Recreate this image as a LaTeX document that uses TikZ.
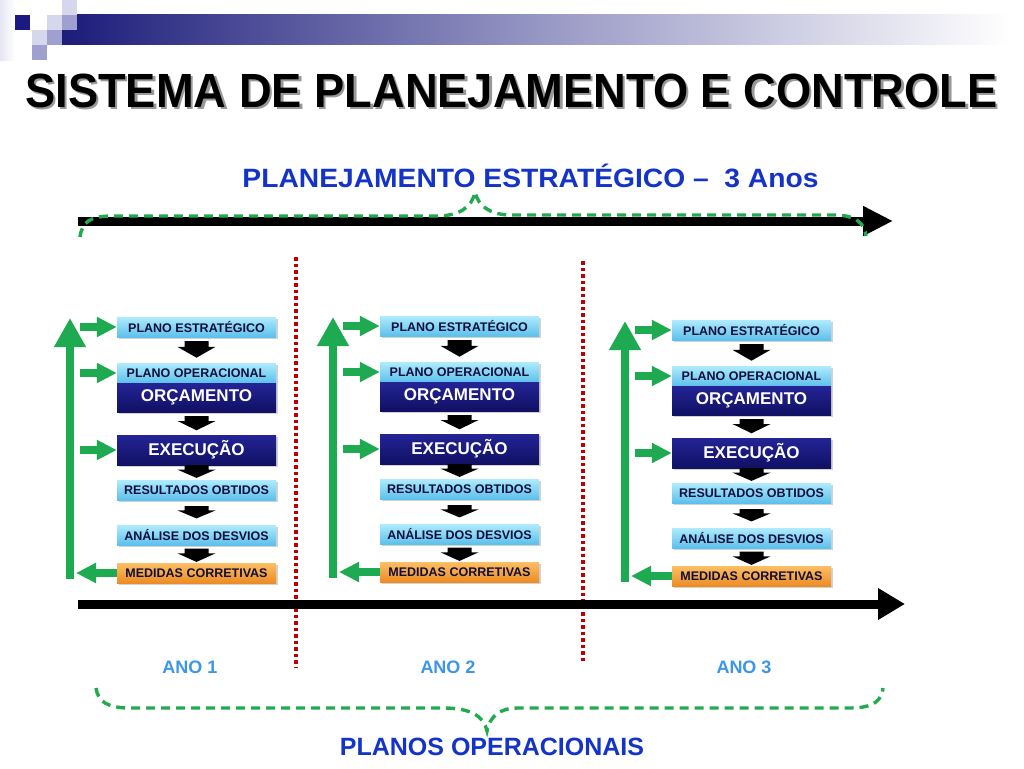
\documentclass[tikz,border=0pt]{standalone}
\usepackage{fontspec}
\setmainfont{Liberation Sans}
\usepackage{graphicx}
\usetikzlibrary{arrows.meta,shadows,calc}

\definecolor{navyTop}{RGB}{36,36,150}
\definecolor{navyBot}{RGB}{16,16,100}
\definecolor{cyanTop}{RGB}{175,235,253}
\definecolor{cyanBot}{RGB}{92,192,236}
\definecolor{orTop}{RGB}{253,190,100}
\definecolor{orBot}{RGB}{236,140,36}
\definecolor{grn}{RGB}{30,170,80}
\definecolor{braceGreen}{RGB}{34,170,80}
\definecolor{titleblue}{RGB}{20,52,200}
\definecolor{anoblue}{RGB}{60,150,232}
\definecolor{dotred}{RGB}{192,0,0}
\definecolor{boxtext}{RGB}{15,15,60}
\definecolor{barL}{RGB}{28,28,122}
\definecolor{sqNavy}{RGB}{26,26,128}
\definecolor{sqLight}{RGB}{214,214,236}
\definecolor{sqMed}{RGB}{160,160,208}

\tikzset{
  lbox/.style={minimum width=159pt, minimum height=20pt, inner sep=0pt,
    top color=cyanTop, bottom color=cyanBot, text=boxtext,
    font=\fontsize{12.5}{12.5}\selectfont\bfseries,
    drop shadow={shadow xshift=1.5pt,shadow yshift=-2pt,opacity=0.35}},
  nbox/.style={lbox, top color=navyTop, bottom color=navyBot, text=white,
    font=\fontsize{17}{17}\selectfont\bfseries},
  obox/.style={lbox, top color=orTop, bottom color=orBot},
  gside/.style={draw=grn, line width=8pt, -{Triangle[length=20pt,width=19pt]}},
  gvert/.style={draw=grn, line width=8pt, -{Triangle[length=29pt,width=30pt]}},
  bigarrow/.style={draw=black, line width=9pt},
  bracestyle/.style={draw=braceGreen, line width=3.4pt, dash pattern=on 9pt off 6pt},
  redline/.style={draw=dotred, line width=4pt, dash pattern=on 3.5pt off 3pt},
}

\newcommand\blkarrow[4]{%
  \coordinate (T) at ($(#1.south)!#3!(#2.north)$);
  \coordinate (B) at ($(#1.south)!#4!(#2.north)$);
  \coordinate (M) at ($(T)!0.35!(B)$);
  \fill[black] ($(T)+(-12,0)$) -- ($(T)+(12,0)$) -- ($(M)+(12,0)$) -- ($(M)+(19,0)$)
    -- (B) -- ($(M)+(-19,0)$) -- ($(M)+(-12,0)$) -- cycle;}

\newcommand\drawblock[3]{%
  \begin{scope}[shift={(#2,#3)}]
    \node[lbox] (#1pe) at (196.5,327) {PLANO ESTRATÉGICO};
    \node[lbox] (#1po) at (196.5,373) {PLANO OPERACIONAL};
    \node[nbox, minimum height=29pt] (#1orc) at (196.5,397.5) {ORÇAMENTO};
    \node[nbox, minimum height=30pt] (#1exe) at (196.5,450) {EXECUÇÃO};
    \node[lbox] (#1res) at (196.5,490) {RESULTADOS OBTIDOS};
    \node[lbox] (#1ana) at (196.5,535) {ANÁLISE DOS DESVIOS};
    \node[obox] (#1med) at (196.5,573) {MEDIDAS CORRETIVAS};
    \coordinate (#1sx) at (80,0);
    \coordinate (#1lx) at (76,0);
    \coordinate (#1vb) at (70,579);
    \coordinate (#1vt) at (70,318);
  \end{scope}
  \draw[gvert] (#1vb) -- (#1vt);
  \draw[gside] (#1pe.west -| #1sx) -- (#1pe.west);
  \draw[gside] (#1po.west -| #1sx) -- (#1po.west);
  \draw[gside] (#1exe.west -| #1sx) -- (#1exe.west);
  \draw[gside] (#1med.west) -- (#1med.west -| #1lx);
  \blkarrow{#1pe}{#1po}{0.15}{0.8}
  \blkarrow{#1orc}{#1exe}{0.17}{0.8}
  \blkarrow{#1exe}{#1res}{0.0}{0.87}
  \blkarrow{#1res}{#1ana}{0.24}{0.74}
  \blkarrow{#1ana}{#1med}{0.2}{0.95}
}

\newcommand\titletext{SISTEMA DE PLANEJAMENTO E CONTROLE}

\begin{document}
\begin{tikzpicture}[x=1pt,y=-1pt]
  \useasboundingbox (0,0) rectangle (1024,768);
  \fill[white] (0,0) rectangle (1024,768);

  % header decoration
  \shade[left color=barL, right color=white, middle color={rgb,255:red,150;green,150;blue,196}]
    (62,15) rectangle (1010,45);
  \shade[left color=sqLight!60, right color=white] (0,0) rectangle (15,60);
  \fill[sqLight] (62,0) rectangle (77,15);
  \fill[sqNavy] (15,15) rectangle (30,30);
  \fill[sqLight] (47,15) rectangle (62,30);
  \fill[sqMed] (62,15) rectangle (77,30);
  \fill[sqLight] (32,30) rectangle (47,45);
  \fill[sqMed] (47,30) rectangle (62,45);
  \fill[sqMed] (32,45) rectangle (47,60);

  % title (with its shadow in the same node)
  \node[anchor=base, text=black, font=\fontsize{48}{48}\selectfont\bfseries]
    (title) at (511.5,107) {\scalebox{0.943}[1]{\makebox[0pt][l]{\hspace{2.5pt}\raisebox{-2.5pt}{\color{black!40}\titletext}}\titletext}};

  % strategic planning heading
  \node[anchor=base, text=titleblue, font=\fontsize{26.5}{26.5}\selectfont\bfseries]
    (plan) at (530.5,187) {\scalebox{1.065}[1]{PLANEJAMENTO ESTRATÉGICO –\ \ 3 Anos}};

  % top timeline arrow
  \coordinate (ta) at (78,221);
  \coordinate (tb) at (893,221);
  \draw[bigarrow, -{Triangle[length=30pt,width=28pt]}] (ta) -- (tb);

  % top brace
  \draw[bracestyle] (80,237) .. controls (82,222) and (90,216) .. (112,216)
    -- (437,216) .. controls (458,216) and (472,208) .. (475,192)
    .. controls (478,206) and (490,214) .. (508,215)
    -- (835,215) .. controls (856,215) and (865,224) .. (866,236);

  % red dotted separators
  \coordinate (r1t) at (296,257);
  \coordinate (r1b) at (296,668);
  \coordinate (r2t) at (583,261);
  \coordinate (r2b) at (583,663);
  \draw[redline] (r1t) -- (r1b);
  \draw[redline] (r2t) -- (r2b);

  % blocks
  \drawblock{a}{0}{0}
  \drawblock{b}{263}{-1}
  \drawblock{c}{555}{3}

  % bottom timeline arrow
  \coordinate (ba) at (78,604);
  \coordinate (bb) at (905,604);
  \draw[bigarrow, -{Triangle[length=27pt,width=30pt]}] (ba) -- (bb);

  % year labels
  \node[anchor=base, text=anoblue, font=\fontsize{18}{18}\selectfont\bfseries] (ano1) at (190,673) {ANO 1};
  \node[anchor=base, text=anoblue, font=\fontsize{18}{18}\selectfont\bfseries] (ano2) at (448,673) {ANO 2};
  \node[anchor=base, text=anoblue, font=\fontsize{18}{18}\selectfont\bfseries] (ano3) at (744,673) {ANO 3};

  % bottom brace
  \draw[bracestyle] (96,688) .. controls (98,702) and (108,708) .. (130,708)
    -- (444,708) .. controls (470,708) and (484,716) .. (487,731)
    .. controls (490,716) and (500,708) .. (518,708)
    -- (850,708) .. controls (874,708) and (882,700) .. (883,688);

  \node[anchor=base, text=titleblue, font=\fontsize{25}{25}\selectfont\bfseries]
    (planos) at (492,755) {PLANOS OPERACIONAIS};
\end{tikzpicture}
\end{document}
